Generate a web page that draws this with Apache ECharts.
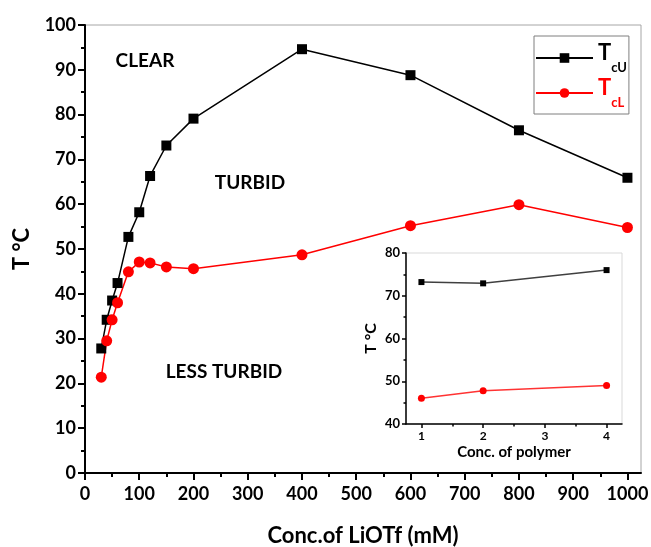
<!DOCTYPE html>
<html>
<head>
<meta charset="utf-8">
<script src="https://cdn.jsdelivr.net/npm/echarts@6/dist/echarts.min.js"></script>
<style>
  html, body { margin: 0; padding: 0; background: #fff; }
  #chart { width: 651px; height: 547px; }
</style>
</head>
<body>
<div id="chart"></div>
<script>
// main plot data: LiOTf concentration (mM) vs cloud points
const xConc = [30, 40, 50, 60, 80, 100, 120, 150, 200, 400, 600, 800, 1000];
const tcU = [27.8, 34.2, 38.5, 42.4, 52.7, 58.2, 66.3, 73.1, 79.1, 94.6, 88.8, 76.5, 65.9];
const tcL = [21.4, 29.5, 34.2, 38.0, 44.9, 47.1, 46.9, 46.0, 45.6, 48.7, 55.2, 59.9, 54.8];
const xTicks = [0, 100, 200, 300, 400, 500, 600, 700, 800, 900, 1000];

// inset data: polymer concentration
const polymer = [1, 2, 4];
const insetU = [73.2, 72.9, 76.0];
const insetL = [46.0, 47.8, 49.0];
const insetTicks = [1, 2, 3, 4];

const FONT = 'Lato';
const RED = '#ff0000';

const pairs = (xs, ys) => xs.map((x, i) => [x, ys[i]]);
// minor ticks sit halfway between major ones
const halfway = t => t.slice(1).map((v, i) => (v + t[i]) / 2);

const chart = echarts.init(document.getElementById('chart'), null, { renderer: 'canvas' });

const boldText = (size, color) => ({
  fontFamily: FONT, fontWeight: 'bold', fontSize: size, color: color || '#000'
});

const region = (text, x, y) => ({
  type: 'text', x: x, y: y,
  style: Object.assign({ text: text, align: 'center', verticalAlign: 'middle' }, boldText(19), { fill: '#000' })
});

const option = {
  backgroundColor: '#fff',
  animation: false,
  grid: [
    { left: 85, right: 10, top: 25, bottom: 74, outerBoundsMode: 'none', containLabel: false,
      show: true, borderColor: '#a6a6a6', borderWidth: 1 },
    { left: 406, top: 253, width: 216, height: 171, outerBoundsMode: 'none', containLabel: false,
      show: true, borderColor: '#d9d9d9', borderWidth: 1, backgroundColor: '#fff' }
  ],
  legend: {
    left: 534, top: 36,
    orient: 'vertical',
    padding: [6, 2, 5, 1],
    borderColor: '#7f7f7f', borderWidth: 1,
    itemWidth: 57, itemHeight: 12, itemGap: 3,
    data: [
      { name: 'TcU', textStyle: { color: '#000' } },
      { name: 'TcL', textStyle: { color: RED } }
    ],
    formatter: n => '{t|T}{s|' + n.slice(1) + '}',
    textStyle: {
      fontFamily: FONT, fontWeight: 'bold', fontSize: 13,
      rich: {
        t: { fontFamily: FONT, fontWeight: 'bold', fontSize: 22, lineHeight: 32, verticalAlign: 'top' },
        s: { fontFamily: FONT, fontWeight: 'bold', fontSize: 13, lineHeight: 14, verticalAlign: 'bottom' }
      }
    }
  },
  graphic: [
    region('CLEAR', 145, 61),
    region('TURBID', 250, 183),
    region('LESS TURBID', 224, 372)
  ],
  xAxis: [
    {
      type: 'value', gridIndex: 0, position: 'bottom', min: 0, max: 1025,
      name: 'Conc.of LiOTf (mM)', nameLocation: 'middle', nameGap: 52,
      nameTextStyle: boldText(22),
      axisLine: { onZero: false, lineStyle: { color: '#000', width: 2 } },
      axisTick: { customValues: xTicks, length: 7, lineStyle: { color: '#000', width: 2 } },
      axisLabel: Object.assign({ customValues: xTicks, margin: 12, formatter: v => String(v) }, boldText(18)),
      splitLine: { show: false }
    },
    {
      type: 'value', gridIndex: 0, position: 'bottom', min: 0, max: 1025,
      axisLine: { show: false },
      axisTick: { customValues: halfway(xTicks), length: 4, lineStyle: { color: '#000', width: 2 } },
      axisLabel: { show: false },
      splitLine: { show: false }
    },
    {
      type: 'value', gridIndex: 1, position: 'bottom', min: 0.75, max: 4.25,
      name: 'Conc. of polymer', nameLocation: 'middle', nameGap: 21,
      nameTextStyle: boldText(15),
      axisLine: { onZero: false, lineStyle: { color: '#000', width: 1.5 } },
      axisTick: { customValues: insetTicks, length: 4, lineStyle: { color: '#000', width: 1.5 } },
      axisLabel: Object.assign({ customValues: insetTicks, margin: 6 }, boldText(12)),
      splitLine: { show: false }
    },
    {
      type: 'value', gridIndex: 1, position: 'bottom', min: 0.75, max: 4.25,
      axisLine: { show: false },
      axisTick: { customValues: halfway(insetTicks), length: 2.5, lineStyle: { color: '#000', width: 1.5 } },
      axisLabel: { show: false },
      splitLine: { show: false }
    }
  ],
  yAxis: [
    {
      type: 'value', gridIndex: 0, min: 0, max: 100, interval: 10,
      name: 'T °C', nameLocation: 'middle', nameGap: 52, nameRotate: 90,
      nameTextStyle: boldText(22),
      axisLine: { show: true, onZero: false, lineStyle: { color: '#000', width: 2 } },
      axisTick: { show: true, length: 7, lineStyle: { color: '#000', width: 2 } },
      minorTick: { show: true, splitNumber: 2, length: 4, lineStyle: { color: '#000', width: 2 } },
      axisLabel: Object.assign({ margin: 9 }, boldText(18)),
      splitLine: { show: false }
    },
    {
      type: 'value', gridIndex: 1, min: 40, max: 80, interval: 10,
      name: 'T °C', nameLocation: 'middle', nameGap: 27, nameRotate: 90,
      nameTextStyle: boldText(16),
      axisLine: { show: true, onZero: false, lineStyle: { color: '#000', width: 1.5 } },
      axisTick: { show: true, length: 4, lineStyle: { color: '#000', width: 1.5 } },
      minorTick: { show: true, splitNumber: 2, length: 2.5, lineStyle: { color: '#000', width: 1.5 } },
      axisLabel: Object.assign({ margin: 6 }, boldText(13)),
      splitLine: { show: false }
    }
  ],
  series: [
    {
      name: 'TcU', type: 'line', xAxisIndex: 0, yAxisIndex: 0,
      data: pairs(xConc, tcU),
      symbol: 'rect', symbolSize: 10,
      lineStyle: { color: '#000', width: 1.5 },
      itemStyle: { color: '#000' }
    },
    {
      name: 'TcL', type: 'line', xAxisIndex: 0, yAxisIndex: 0,
      data: pairs(xConc, tcL),
      symbol: 'circle', symbolSize: 11,
      lineStyle: { color: RED, width: 1.5 },
      itemStyle: { color: RED }
    },
    {
      name: 'TcU inset', type: 'line', xAxisIndex: 2, yAxisIndex: 1,
      data: pairs(polymer, insetU),
      symbol: 'rect', symbolSize: 6,
      lineStyle: { color: '#404040', width: 1.5 },
      itemStyle: { color: '#000' }
    },
    {
      name: 'TcL inset', type: 'line', xAxisIndex: 2, yAxisIndex: 1,
      data: pairs(polymer, insetL),
      symbol: 'circle', symbolSize: 7,
      lineStyle: { color: '#ff3333', width: 1.5 },
      itemStyle: { color: RED }
    }
  ]
};

chart.setOption(option);
</script>
</body>
</html>
